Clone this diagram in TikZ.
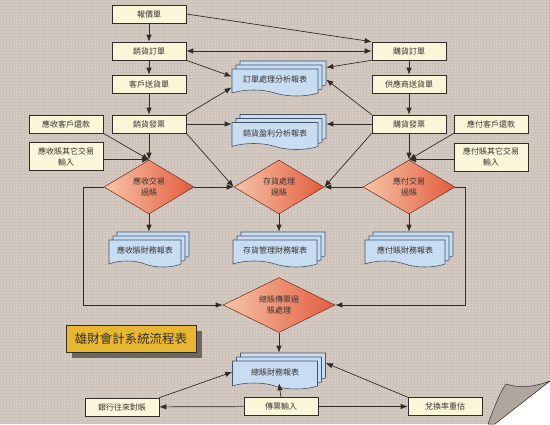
\documentclass[tikz,border=0pt]{standalone}
\usepackage{fontspec}
\newfontfamily\cjk{Noto Sans CJK TC}
\usetikzlibrary{arrows.meta,shapes.geometric,shapes.symbols,shadows}

\definecolor{sfondo}{RGB}{213,203,194}
\definecolor{trama}{RGB}{192,180,170}
\definecolor{linea}{RGB}{50,44,40}
\definecolor{testo}{RGB}{58,50,46}
\definecolor{carta}{RGB}{250,246,218}
\definecolor{azzurro}{RGB}{200,221,242}
\definecolor{bordoblu}{RGB}{70,84,104}
\definecolor{rossoscuro}{RGB}{226,92,62}
\definecolor{rossochiaro}{RGB}{248,196,168}
\definecolor{bordorosso}{RGB}{120,60,44}
\definecolor{oro}{RGB}{232,182,48}
\definecolor{ombra}{RGB}{112,102,96}
\definecolor{piega}{RGB}{176,166,158}

\begin{document}
\begin{tikzpicture}[
    x=1pt, y=-1pt,
    % Stili comuni per documenti, rapporti, processi e frecce.
    every node/.style={font=\cjk\fontsize{8}{11}\selectfont, align=center, text=testo},
    flow/.style={draw=linea, line width=0.7pt, -{Latex[length=7pt,width=5.5pt]}},
    both flow/.style={flow, {Latex[length=7pt,width=5.5pt]}-{Latex[length=7pt,width=5.5pt]}},
    doc/.style={rectangle, draw=linea, line width=0.6pt, fill=carta,
        minimum width=74pt, minimum height=18pt, inner sep=1pt},
    doc input/.style={doc, minimum height=28pt},
    report/.style={tape, tape bend top=none, tape bend bottom=out and in,
        tape bend height=6pt, draw=bordoblu, line width=0.6pt, fill=azzurro,
        minimum width=86pt, minimum height=27pt, inner sep=1pt,
        copy shadow={shadow xshift=8pt, shadow yshift=8pt},
        copy shadow={shadow xshift=4pt, shadow yshift=4pt}},
    process/.style={diamond, aspect=1.6, draw=bordorosso, line width=0.6pt,
        left color=rossochiaro, right color=rossoscuro, text=testo,
        minimum width=90pt, minimum height=54pt, inner sep=0pt},
    heading/.style={rectangle, draw=linea, line width=0.6pt, fill=oro,
        minimum width=130pt, minimum height=27pt,
        font=\cjk\fontsize{12.5}{14}\selectfont,
        drop shadow={shadow xshift=6pt, shadow yshift=-6pt, fill=ombra, opacity=1}}
]
% Sfondo a trama di tela con angolo piegato.
\useasboundingbox (0,0) rectangle (550,424);
\fill[sfondo] (0,0) rectangle (550,424);
\draw[trama, line width=0.25pt, opacity=0.35, step=3pt] (0,0) grid (550,424);
\fill[white] (495,424) -- (550,381) -- (550,424) -- cycle;
\filldraw[draw=linea, line width=0.5pt, fill=piega]
    (488,424) .. controls (494,408) and (500,392) .. (506,384)
    .. controls (522,389) and (537,386) .. (550,381) -- (495,424) -- cycle;

% Colonna vendite.
\node[doc] (bj) at (149,14)  {報價單};
\node[doc] (so) at (149,51)  {銷貨訂單};
\node[doc] (cd) at (149,84)  {客戶送貨單};
\node[doc] (sf) at (149,124) {銷貨發票};
\node[doc]       (rr) at (66,124)   {應收客戶還款};
\node[doc input] (ro) at (66,156.5) {應收賬其它交易\\輸入};

% Colonna acquisti.
\node[doc] (po) at (409,51)  {購貨訂單};
\node[doc] (sd) at (409,84)  {供應商送貨單};
\node[doc] (pf) at (409,124) {購貨發票};
\node[doc]       (pr) at (491,124) {應付客戶還款};
\node[doc input] (pi) at (491,157) {應付賬其它交易\\輸入};

% Rapporti di analisi.
\node[report] (rep1) at (275,79.5) {訂單處理分析報表};
\node[report] (rep2) at (275,133)  {銷貨盈利分析報表};

% Processi di registrazione e relativi rapporti.
\node[process] (ar)  at (149,187) {應收交易\\過賬};
\node[process] (inv) at (279,187) {存貨處理\\過賬};
\node[process, minimum width=92pt] (ap) at (409,187) {應付交易\\過賬};

\node[report, minimum width=72pt] (rar)  at (145,250.5) {應收賬財務報表};
\node[report, minimum width=84pt] (rinv) at (275,250.5) {存貨管理財務報表};
\node[report, minimum width=80pt] (rap)  at (405,250.5) {應付賬財務報表};

% Contabilita' generale.
\node[process, minimum width=112pt, minimum height=55pt] (gl) at (279,305) {總賬傳票過\\賬處理};
\node[report, minimum width=85pt, minimum height=28pt] (glr) at (275,372) {總賬財務報表};
\node[doc] (bk) at (122,407)   {銀行往來對賬};
\node[doc] (vi) at (281,406.5) {傳票輸入};
\node[doc] (fx) at (445,406.5) {兌換率重估};

\node[heading] (title) at (131,338.5) {雄財會計系統流程表};

% Flusso dei documenti di vendita e acquisto.
\draw[flow] (bj) -- (so);
\draw[flow] (bj.east) -- (po.north west);
\draw[both flow] (so) -- (po);
\draw[flow] (so) -- (cd);
\draw[flow] (cd) -- (sf);
\draw[flow] (po) -- (sd);
\draw[flow] (sd) -- (pf);

\draw[flow] (so.south east) -- ([yshift=3pt]rep1.west);
\draw[flow] (sf.north east) -- ([yshift=-8pt]rep1.west);
\draw[flow] (sf.east) -- ([yshift=9pt]rep2.west);
\draw[flow] (po.south west) -- ([xshift=8pt,yshift=12pt]rep1.east);
\draw[flow] (pf.north west) -- ([xshift=8pt]rep1.east);
\draw[flow] (pf.west) -- ([xshift=8pt,yshift=9pt]rep2.east);

% Ingressi ai processi di registrazione.
\draw[flow] (sf) -- (ar);
\draw[flow] (rr.south east) -- (ar.north);
\draw[flow] (ro.east |- ar.north) -- (ar.north);
\draw[flow] (sf.south east) -- (inv.west);
\draw[flow] (ar.east) -- (inv.west);
\draw[flow] (pf) -- (ap);
\draw[flow] (pr.south west) -- (ap.north);
\draw[flow] (pi.west |- ap.north) -- (ap.north);
\draw[flow] (pf.south west) -- (inv.east);
\draw[flow] (ap.west) -- (inv.east);

\draw[flow] (ar.south) -- ([xshift=4pt,yshift=8pt]rar.north);
\draw[flow] (inv.south) -- ([xshift=4pt,yshift=8pt]rinv.north);
\draw[flow] (ap.south) -- ([xshift=4pt,yshift=8pt]rap.north);

% Passaggio alla contabilita' generale.
\draw[flow] (ar.west) -- ++(-20,0) |- (gl.west);
\draw[flow] (ap.east) -- ++(10,0) |- (gl.east);
\draw[flow] (gl.south) -- ([xshift=4pt,yshift=8pt]glr.north);
\draw[flow] (vi.north) -- ([xshift=-2pt]glr.south -| vi.north);
\draw[flow] (vi) -- (bk);
\draw[flow] (vi) -- (fx);
\draw[flow] (bk.north east) -- (glr.west);
\draw[flow] (fx.north west) -- ([xshift=8pt,yshift=9pt]glr.east);
\end{tikzpicture}
\end{document}
